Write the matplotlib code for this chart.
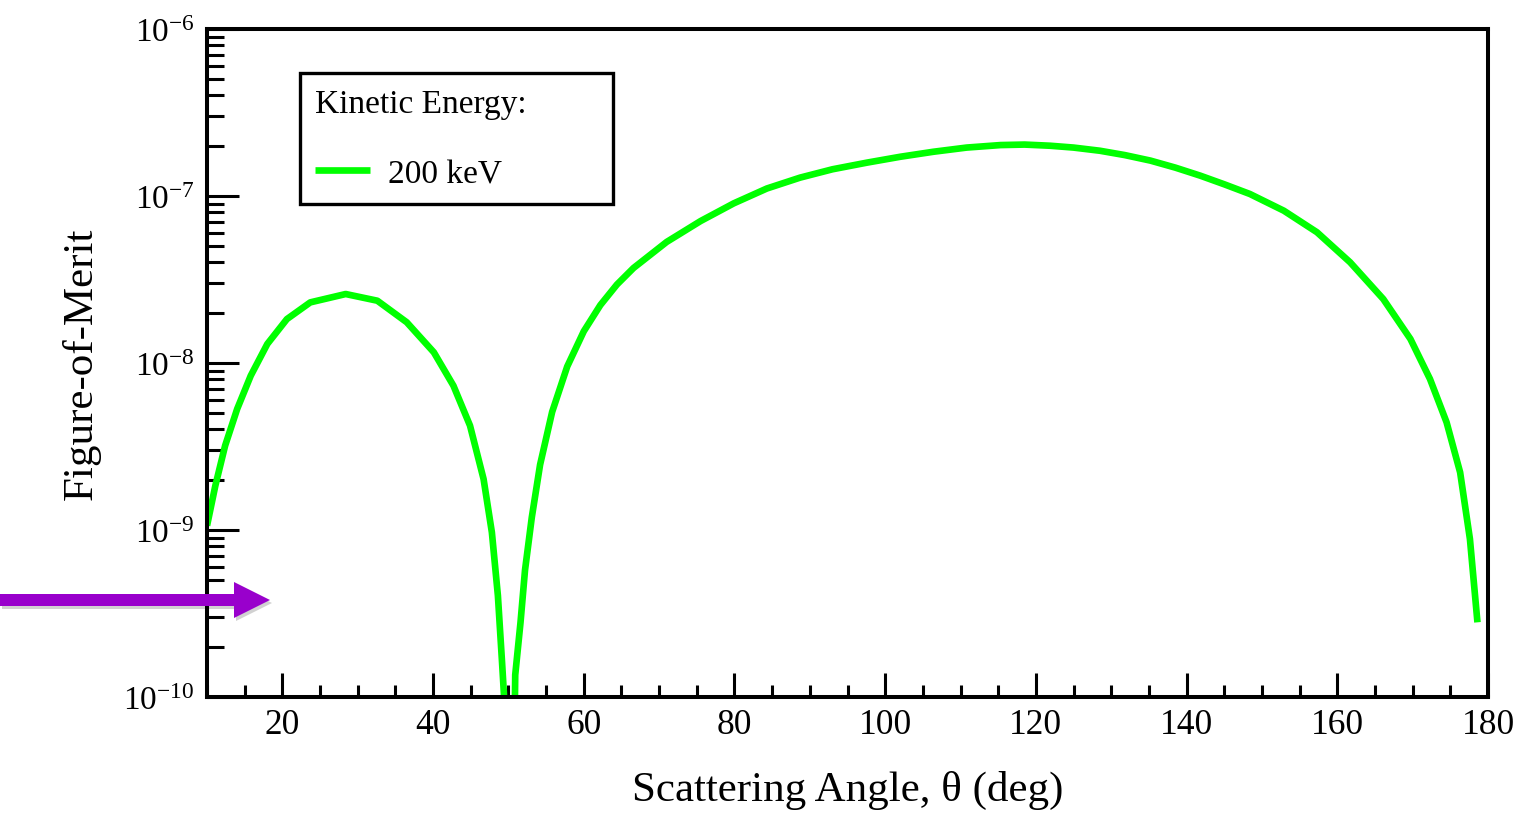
import numpy as np
import matplotlib
matplotlib.use("Agg")
import matplotlib.pyplot as plt
from matplotlib.patches import FancyArrow
from matplotlib.transforms import IdentityTransform
from matplotlib.ticker import LogLocator, MultipleLocator, LogFormatterMathtext, NullFormatter

# scattering angle (deg) and log10(figure-of-merit)
theta = [10.0, 11.1, 12.4, 14.0, 15.8, 18.0, 20.6, 23.7, 28.4, 32.6, 36.5,
         40.1, 42.7, 44.9, 46.7, 47.8, 48.6, 49.15, 49.4, 50.45,
         50.9, 51.6, 52.2, 53.1, 54.2, 55.8, 57.8, 60.0, 62.2, 64.4, 66.6, 71.0,
         75.5, 79.9, 84.3, 88.7, 93.0, 97.6, 102.0, 106.4, 110.8, 115.3,
         118.5, 121.9, 125.0, 128.5, 131.8, 135.2, 138.5, 141.8, 145.0, 148.4,
         152.9, 157.3, 161.7, 166.1, 169.7, 172.3, 174.5, 176.3, 177.6, 178.6]
log_fom = [-8.974, -8.735, -8.495, -8.275, -8.076, -7.886, -7.737, -7.637, -7.587, -7.627, -7.756,
           -7.936, -8.136, -8.375, -8.695, -9.014, -9.393, -9.792, -9.982, -11.5,
           -9.868, -9.554, -9.240, -8.924, -8.609, -8.293, -8.021, -7.810, -7.653, -7.530, -7.431, -7.275,
           -7.150, -7.044, -6.955, -6.890, -6.840, -6.800, -6.765, -6.735, -6.710, -6.695,
           -6.692, -6.699, -6.710, -6.729, -6.755, -6.788, -6.830, -6.878, -6.930, -6.988,
           -7.088, -7.217, -7.397, -7.617, -7.856, -8.096, -8.355, -8.655, -9.054, -9.553]
fom = 10.0 ** np.array(log_fom)

xticks = [20, 40, 60, 80, 100, 120, 140, 160, 180]
label = "200 keV"
legend_title = "Kinetic Energy:"

plt.rcParams['font.family'] = ['Liberation Serif', 'DejaVu Serif']
plt.rcParams['mathtext.fontset'] = 'stix'

fig = plt.figure(figsize=(15.19, 8.2), dpi=100)
ax = fig.add_axes([0.1363, 0.1488, 0.8433, 0.8146])

ax.plot(theta, fom, color='#00ff00', lw=4.8, solid_capstyle='butt', label=label)

ax.set_yscale('log')
ax.set_xlim(10, 180)
ax.set_ylim(1e-10, 1e-6)

ax.xaxis.set_major_locator(plt.FixedLocator(xticks))
ax.xaxis.set_minor_locator(MultipleLocator(5))
ax.yaxis.set_major_locator(LogLocator(base=10, numticks=10))
ax.yaxis.set_minor_locator(LogLocator(base=10, subs=np.arange(2, 10), numticks=20))
ax.yaxis.set_major_formatter(LogFormatterMathtext())
ax.yaxis.set_minor_formatter(NullFormatter())

ax.tick_params(axis='both', which='both', direction='in', top=False, right=False,
               width=2.2, colors='black')
ax.tick_params(axis='x', which='major', labelsize=25.5, length=17, pad=8)
ax.tick_params(axis='x', which='minor', length=9)
ax.tick_params(axis='y', which='major', labelsize=24, length=23, pad=9)
ax.tick_params(axis='y', which='minor', length=12)

for s in ax.spines.values():
    s.set_linewidth(2.9)

ax.set_xlabel("Scattering Angle, θ (deg)", fontsize=31, labelpad=21)
ax.set_ylabel("Figure-of-Merit", fontsize=31, labelpad=16)

leg = ax.legend(title=legend_title, loc='upper left',
                bbox_to_anchor=(300 / 1519, 1 - 74 / 820, 313 / 1519, 0.0),
                bbox_transform=fig.transFigure, mode='expand',
                fontsize=24, title_fontsize=24, alignment='left',
                handlelength=1.65, handletextpad=0.55, labelspacing=1.2,
                borderpad=0.45, borderaxespad=0.0,
                fancybox=False, framealpha=1, edgecolor='black')
leg.get_frame().set_linewidth(2.4)

# purple pointer on the left, with a faint shadow
shadow = FancyArrow(2, 820 - 604, 270, 0, width=12, head_width=36, head_length=36,
                    length_includes_head=True, color='#000000', alpha=0.18, lw=0,
                    transform=IdentityTransform())
arrow = FancyArrow(0, 820 - 601, 270, 0, width=12, head_width=36, head_length=36,
                   length_includes_head=True, color='#9900cc', lw=0,
                   transform=IdentityTransform())
fig.patches.append(shadow)
fig.patches.append(arrow)

fig.savefig("out.png", dpi=100)
